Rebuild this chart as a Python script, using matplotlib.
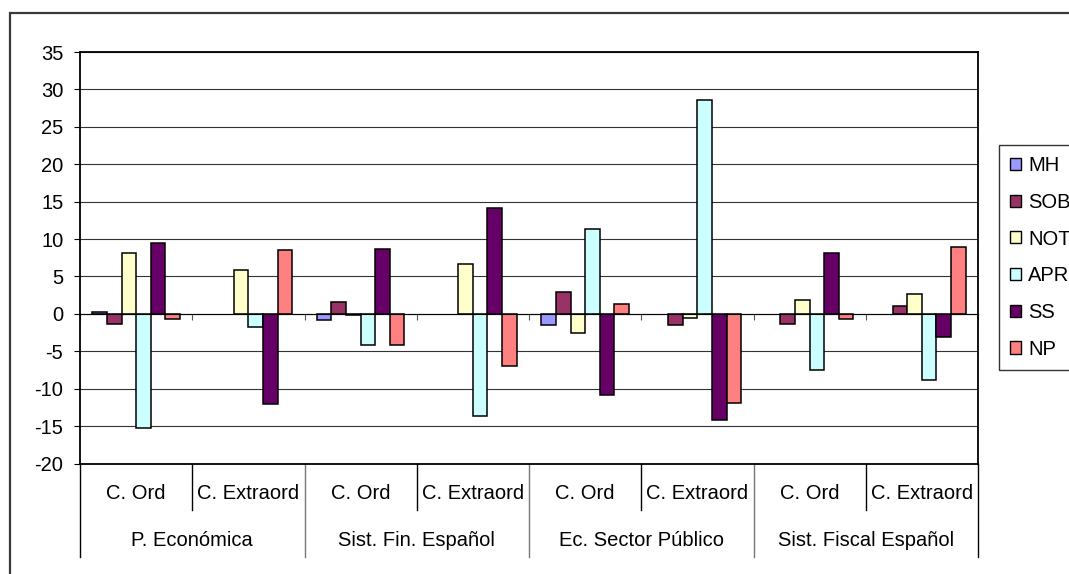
import matplotlib
matplotlib.use("Agg")
import matplotlib.pyplot as plt
from matplotlib.patches import Rectangle, Patch
from matplotlib.transforms import blended_transform_factory
import numpy as np

plt.rcParams['font.family'] = ['Liberation Sans', 'DejaVu Sans']
plt.rcParams['axes.unicode_minus'] = False

nan = float("nan")
subcats = ["C. Ord", "C. Extraord"] * 4
groups = ["P. Económica", "Sist. Fin. Español", "Ec. Sector Público", "Sist. Fiscal Español"]
series_names = ["MH", "SOB", "NOT", "APR", "SS", "NP"]
MH = [0.3, nan, -0.8, nan, -1.5, nan, nan, nan]
SOB = [-1.3, nan, 1.6, nan, 2.9, -1.5, -1.3, 1.0]
NOT = [8.2, 5.9, -0.2, 6.7, -2.5, -0.5, 1.8, 2.6]
APR = [-15.2, -1.8, -4.2, -13.7, 11.3, 28.6, -7.5, -8.8]
SS = [9.5, -12.1, 8.7, 14.2, -10.8, -14.2, 8.2, -3.1]
NP = [-0.75, 8.5, -4.2, -7.0, 1.3, -11.9, -0.75, 9.0]
series = [MH, SOB, NOT, APR, SS, NP]
colors = ["#9999FF", "#993366", "#FFFFCC", "#CCFFFF", "#660066", "#FF8080"]

W, H = 1069, 574
fig = plt.figure(figsize=(W / 100, H / 100), dpi=100)
FS = 14.5

# outer frame
fig.patches.append(Rectangle((10 / W, -0.1), 1.2, (574 - 13) / H + 0.1,
                             transform=fig.transFigure, fill=False,
                             edgecolor="#3a3a3a", linewidth=1.6))

left, right, top, bottom = 80, 978, 52, 463.5
ax = fig.add_axes([left / W, (H - bottom) / H, (right - left) / W, (bottom - top) / H])

n = len(subcats)
x = np.arange(n) + 0.5
bw = 0.13
for i, (name, vals, c) in enumerate(zip(series_names, series, colors)):
    ax.bar(x + (i - 2.5) * bw, vals, width=bw, color=c, edgecolor="black",
           linewidth=1.1, label=name, zorder=3)

ax.set_xlim(0, n)
ax.set_ylim(-20, 35)
ax.set_yticks(np.arange(-20, 36, 5))
ax.yaxis.grid(True, color="#333333", linewidth=0.8, zorder=0)
ax.tick_params(axis="y", direction="out", length=4.5, width=0.8, pad=7.5, labelsize=FS)

# horizontal axis crosses at 0
ax.spines["bottom"].set_position(("data", 0))
ax.spines["bottom"].set_zorder(4)
ax.set_xticks(np.arange(0, n + 1))
ax.set_xticklabels([])
ax.tick_params(axis="x", direction="out", length=4, width=0.8, color="#555555")
for s in ["left", "top", "right"]:
    ax.spines[s].set_linewidth(1.3)
    ax.spines[s].set_color("black")
ax.axhline(-20, color="black", linewidth=1.3, clip_on=False, zorder=5)

# multi-level category labels
tr = blended_transform_factory(ax.transData, ax.transAxes)
ph = bottom - top
y_sub = -30 / ph
y_grp = -77 / ph
y_short = -46 / ph
y_long = -93 / ph
for i, lab in enumerate(subcats):
    ax.text(i + 0.5, y_sub, lab, transform=tr, ha="center", va="center", fontsize=FS)
for g, lab in enumerate(groups):
    ax.text(2 * g + 1, y_grp, lab, transform=tr, ha="center", va="center", fontsize=FS)
for b in range(n + 1):
    yend = y_long if b % 2 == 0 else y_short
    col = "black" if b in (0, n) or b % 2 == 1 else "#777777"
    ax.plot([b, b], [0, yend], transform=tr, color=col, linewidth=1.0, clip_on=False)

handles = [Patch(facecolor=c, edgecolor="black", linewidth=1.0) for c in colors]
leg = fig.legend(handles, series_names, loc="upper left",
                 bbox_to_anchor=(999 / W, (H - 145) / H), borderaxespad=0,
                 frameon=True, fancybox=False, edgecolor="black", fontsize=FS,
                 handlelength=0.55, handleheight=0.55, handletextpad=0.35,
                 labelspacing=0.88, borderpad=0.55)
leg.get_frame().set_linewidth(1.0)

fig.savefig("out.png", dpi=100)
